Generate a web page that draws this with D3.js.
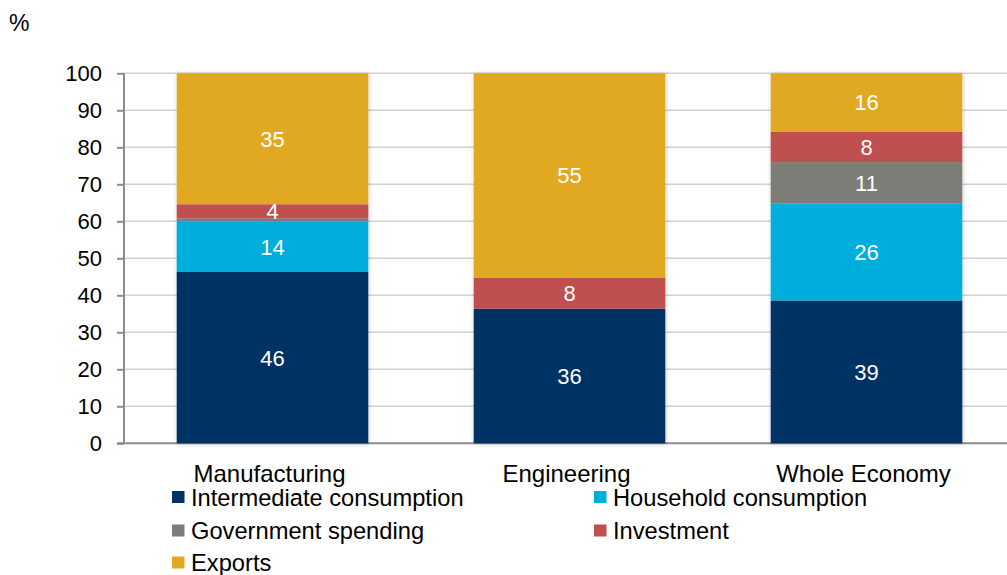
<!DOCTYPE html>
<html>
<head>
<meta charset="utf-8">
<script src="https://cdn.jsdelivr.net/npm/d3@7"></script>
<style>
  html, body { margin: 0; padding: 0; background: #fff; }
  svg { display: block; font-family: "Liberation Sans", Arial, sans-serif; }
</style>
</head>
<body>
<svg id="chart" width="1007" height="575"></svg>
<script>
// Share of demand by destination, per sector (%)
const categories = ["Manufacturing", "Engineering", "Whole Economy"];
const seriesNames = ["Intermediate consumption", "Household consumption", "Government spending", "Investment", "Exports"];
const intermediate = [46.3, 36.4, 38.6];
const household    = [13.6, 0.0, 26.2];
const government   = [0.9, 0.0, 11.2];
const investment   = [3.8, 8.4, 8.2];
const exportsShare = [35.4, 55.2, 15.8];
const yTicks = [0, 10, 20, 30, 40, 50, 60, 70, 80, 90, 100];

const colors = ["#003263", "#00AEDD", "#7D7D78", "#C0504F", "#E1A920"];
const seriesValues = [intermediate, household, government, investment, exportsShare];

const rows = categories.map((c, i) => {
  const r = { category: c };
  seriesNames.forEach((s, k) => { r[s] = seriesValues[k][i]; });
  return r;
});
const stacked = d3.stack().keys(seriesNames)(rows);

const svg = d3.select("#chart");
const W = 1007;
const axisX = 124;

const y = d3.scaleLinear().domain([0, 100]).range([443.3, 73.3]);
const x = d3.scaleBand().domain(categories).range([axisX, axisX + 891])
  .paddingInner(0.355).paddingOuter(0.1775);

// soft shadow under the columns
const defs = svg.append("defs");
const f = defs.append("filter").attr("id", "shadow")
  .attr("x", "-10%").attr("y", "-10%").attr("width", "120%").attr("height", "120%");
f.append("feDropShadow").attr("dx", 0.5).attr("dy", 0.5)
  .attr("stdDeviation", 2).attr("flood-color", "#000").attr("flood-opacity", 0.22);

// gridlines
svg.append("g").selectAll("line").data(yTicks.filter(t => t > 0)).join("line")
  .attr("x1", axisX).attr("x2", W)
  .attr("y1", d => y(d)).attr("y2", d => y(d))
  .attr("stroke", "#D4D2CE").attr("stroke-width", 1.5);

// y axis
const yAxis = d3.axisLeft(y).tickValues(yTicks).tickSize(7).tickPadding(15);
const gy = svg.append("g").attr("transform", `translate(${axisX},0)`).call(yAxis);
gy.select(".domain").attr("stroke", "#8C8C8C").attr("stroke-width", 2).attr("d", `M0,${y(100)}V${y(0)}`);
gy.selectAll(".tick line").attr("stroke", "#8C8C8C").attr("stroke-width", 2);
gy.selectAll(".tick text").attr("font-size", 22).attr("fill", "#000")
  .attr("font-family", "'Liberation Sans', Arial, sans-serif");

// baseline
svg.append("line").attr("x1", axisX - 7).attr("x2", W)
  .attr("y1", y(0)).attr("y2", y(0))
  .attr("stroke", "#8C8C8C").attr("stroke-width", 2);

// stacked columns
const barG = svg.append("g").attr("filter", "url(#shadow)");
stacked.forEach((layer, k) => {
  barG.append("g").attr("fill", colors[k]).selectAll("rect").data(layer).join("rect")
    .attr("x", d => x(d.data.category))
    .attr("width", x.bandwidth())
    .attr("y", d => y(d[1]))
    .attr("height", d => Math.max(0, y(d[0]) - y(d[1])));
});

// value labels
const fmt = d3.format(".0f");
const labelG = svg.append("g");
stacked.forEach((layer) => {
  labelG.selectAll(null).data(layer.filter(d => d[1] - d[0] >= 2)).join("text")
    .attr("x", d => x(d.data.category) + x.bandwidth() / 2)
    .attr("y", d => (y(d[0]) + y(d[1])) / 2)
    .attr("dy", "0.36em")
    .attr("text-anchor", "middle")
    .attr("font-size", 22)
    .attr("fill", "#fff")
    .text(d => fmt(d[1] - d[0]));
});

// category labels
svg.append("g").selectAll("text").data(categories).join("text")
  .attr("x", d => x(d) + x.bandwidth() / 2 - 3)
  .attr("y", 481.5)
  .attr("text-anchor", "middle")
  .attr("font-size", 24)
  .attr("fill", "#000")
  .text(d => d);

// unit label
svg.append("text").attr("x", 9).attr("y", 31).attr("font-size", 23).attr("fill", "#000").text("%");

// legend
const legendPos = [[172, 497], [594, 497], [172, 530.5], [594, 530.5], [172, 562.5]];
const lg = svg.append("g").selectAll("g").data(seriesNames).join("g")
  .attr("transform", (d, i) => `translate(${legendPos[i][0]},${legendPos[i][1]})`);
lg.append("rect").attr("x", 0).attr("y", -6).attr("width", 12.5).attr("height", 12)
  .attr("fill", (d, i) => colors[i]);
lg.append("text").attr("x", 19).attr("y", 0).attr("dy", "0.36em")
  .attr("font-size", 23.7).attr("fill", "#000").text(d => d);
</script>
</body>
</html>
